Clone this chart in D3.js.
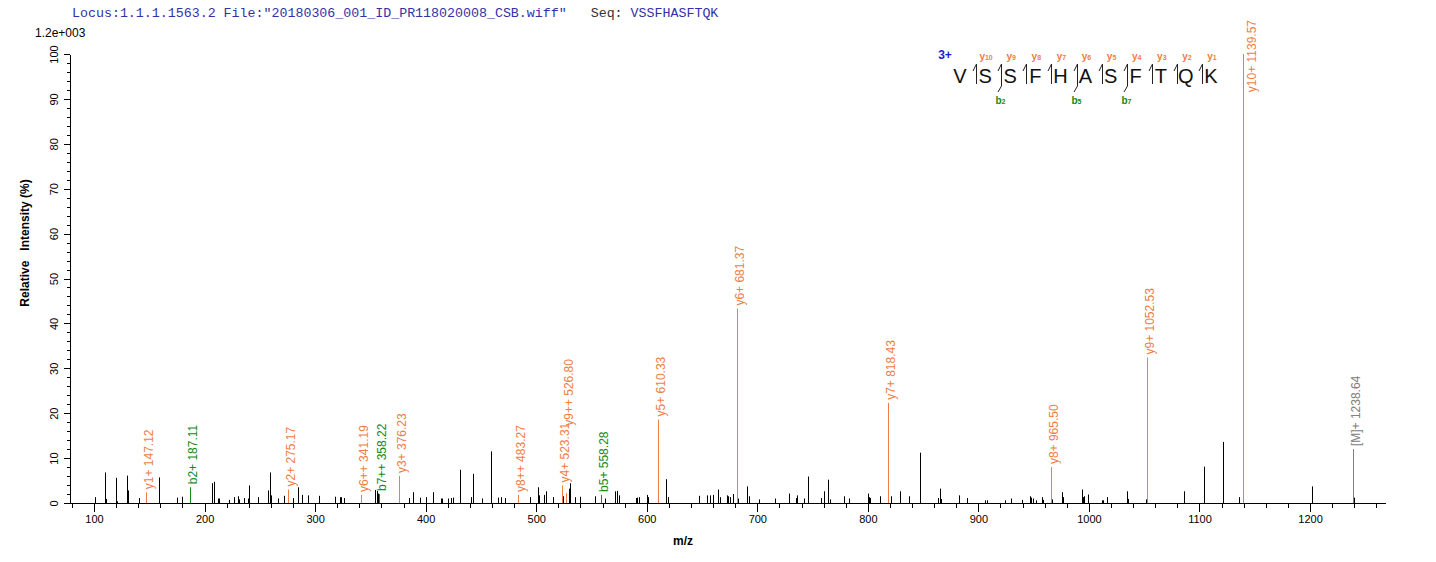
<!DOCTYPE html>
<html><head><meta charset="utf-8">
<script src="https://cdn.jsdelivr.net/npm/d3@7"></script>
<style>body{margin:0;background:#fff}svg{display:block;background:#fff}</style>
</head><body><svg id="c" width="1436" height="562"></svg>
<script>
// ---------- data ----------
const headerLocus = 'Locus:1.1.1.1563.2 File:"20180306_001_ID_PR118020008_CSB.wiff"';
const headerSeqLabel = "Seq:";
const headerSeq = "VSSFHASFTQK";
const maxIntensityLabel = "1.2e+003";
const chargeLabel = "3+";
const xTitle = "m/z";
const yTitle = "Relative   Intensity (%)";

const xTickValues = d3.range(80, 1261, 20);
const xLabelEvery = 100;
const yTickValues = d3.range(0, 101, 2);
const yLabelEvery = 10;

// unannotated peaks (m/z, relative intensity %)
const peakMz = [100.8,110.3,110.9,120.2,121.0,129.7,130.5,140.8,158.7,174.7,180.0,206.7,208.2,212.0,213.1,222.0,226.5,230.3,231.4,235.3,239.5,240.2,247.9,257.0,257.8,258.9,260.0,266.5,272.3,280.3,284.1,284.9,287.9,294.0,303.1,318.0,322.2,323.7,326.0,354.6,355.8,357.3,384.7,388.9,395.0,400.3,406.8,414.0,415.2,420.0,423.2,424.3,431.2,441.0,443.0,451.0,459.4,465.5,467.8,471.6,494.8,501.7,502.8,507.4,509.0,515.0,524.6,529.6,530.2,531.0,535.2,539.8,553.5,562.6,571.4,573.3,574.8,590.5,591.6,593.1,600.0,600.8,617.5,619.4,646.9,654.9,656.8,659.8,664.0,664.8,665.9,673.0,673.8,675.0,677.6,682.6,691.1,692.3,701.2,716.2,729.0,734.7,736.3,742.5,746.3,757.9,760.6,763.7,766.0,778.8,783.0,800.4,801.2,802.0,811.2,821.2,829.3,837.5,847.5,863.7,865.6,866.4,882.6,890.0,906.2,907.7,924.0,929.7,939.8,947.1,947.9,949.0,951.7,957.9,958.7,966.8,975.7,976.4,993.8,995.0,995.7,999.2,1012.0,1012.8,1016.2,1034.4,1035.2,1051.7,1086.1,1103.9,1121.2,1135.9,1201.5,1239.8];
const peakInt = [1.3,6.8,0.9,5.6,0.4,6.1,2.8,1.1,5.7,1.2,1.4,4.4,4.7,1.0,1.0,0.7,1.3,1.5,0.8,1.1,1.0,3.9,1.3,2.8,2.4,6.8,1.7,1.0,1.6,1.1,3.5,2.2,1.8,1.7,1.6,1.4,1.3,1.3,1.1,2.9,2.7,2.1,1.1,2.4,1.2,1.3,2.4,1.0,1.0,1.0,1.1,1.2,7.4,1.3,6.5,1.0,11.5,1.2,1.3,1.1,1.3,3.5,1.7,1.8,2.6,1.3,1.5,3.2,4.4,1.3,1.3,1.4,1.5,1.0,2.6,2.7,1.7,1.1,1.2,1.3,1.8,1.3,5.3,1.3,1.6,1.7,1.7,1.8,3.0,2.0,1.3,1.7,1.5,1.3,2.0,1.0,3.7,1.5,0.8,1.0,2.1,1.1,1.7,1.0,5.9,1.1,2.6,5.2,0.8,1.5,1.0,2.1,1.3,1.1,1.5,1.5,2.6,1.5,11.2,1.1,3.2,0.9,1.7,1.1,0.6,0.6,0.6,1.0,0.7,1.5,1.2,1.0,0.6,1.3,0.7,0.8,2.4,1.3,3.0,1.3,1.5,1.9,0.6,0.6,1.3,2.6,0.9,0.8,2.6,8.1,13.6,1.3,3.7,1.2];

// annotated fragment peaks
const annMz    = [147.12,187.11,275.17,341.19,358.22,376.23,483.27,523.31,526.80,558.28,610.33,681.37,818.43,965.50,1052.53,1139.57,1238.64];
const annInt   = [2.4,3.5,3.0,1.8,2.0,6.0,1.8,3.9,2.2,1.8,18.6,43.3,22.3,8.0,32.4,100,12.0];
const annLabel = ["y1+ 147.12","b2+ 187.11","y2+ 275.17","y6++ 341.19","b7++ 358.22","y3+ 376.23","y8++ 483.27","y4+ 523.31","y9++ 526.80","b5+ 558.28","y5+ 610.33","y6+ 681.37","y7+ 818.43","y8+ 965.50","y9+ 1052.53","y10+ 1139.57","[M]+ 1238.64"];
const annType  = ["y","b","y","y","b","y","y","y","y","b","y","y","y","y","y","y","M"];

// sequence coverage map
const seqResidues = headerSeq.split("");
const yIonNumbers = [10,9,8,7,6,5,4,3,2,1];   // boundary after residue 1..10
const bIonNumbers = [2,5,7];

// ---------- styling ----------
const colors = {y:"#ef7d45", b:"#138a13", M:"#808080", peak:"#000", header:"#3232a8", seqLabel:"#333", charge:"#1a1acc"};
const sansFont = "Arial, 'Liberation Sans', sans-serif";

const svg = d3.select("#c");
const x = d3.scaleLinear().domain([78, 1268]).range([69.7, 1385.2]);
const y = d3.scaleLinear().domain([0, 100]).range([503, 54]);

// header
const hdr = svg.append("text").attr("x", 72).attr("y", 17)
  .style("font-family", "'Liberation Mono', 'Courier New', monospace").style("font-size", "13.3px")
  .style("white-space", "pre");
hdr.append("tspan").attr("fill", colors.header).text(headerLocus + "   ");
hdr.append("tspan").attr("fill", colors.seqLabel).text(headerSeqLabel + " ");
hdr.append("tspan").attr("fill", colors.header).text(headerSeq);

svg.append("text").attr("x", 35).attr("y", 37).style("font-family", sansFont).style("font-size", "12px")
  .attr("fill", "#000").text(maxIntensityLabel);

// axes
function styleAxis(g) {
  g.selectAll("text").style("font-family", sansFont).style("font-size", "11px").attr("fill", "#000");
  g.selectAll("line,path").attr("stroke", "#000").attr("shape-rendering", "crispEdges");
}
const gxMinor = svg.append("g").attr("transform", "translate(0,503)")
  .call(d3.axisBottom(x).tickValues(xTickValues.filter(v => v % xLabelEvery !== 0)).tickSize(5).tickSizeOuter(0).tickFormat(""));
gxMinor.select(".domain").remove();
const gxMajor = svg.append("g").attr("transform", "translate(0,503)")
  .call(d3.axisBottom(x).tickValues(xTickValues.filter(v => v % xLabelEvery === 0)).tickSize(9).tickSizeOuter(0).tickPadding(3).tickFormat(d3.format("d")));
styleAxis(gxMinor); styleAxis(gxMajor);

const gyMinor = svg.append("g").attr("transform", "translate(70,0)")
  .call(d3.axisLeft(y).tickValues(yTickValues.filter(v => v % yLabelEvery !== 0)).tickSize(3).tickSizeOuter(0).tickFormat(""));
gyMinor.select(".domain").remove();
const gyMajor = svg.append("g").attr("transform", "translate(70,0)")
  .call(d3.axisLeft(y).tickValues(yTickValues.filter(v => v % yLabelEvery === 0)).tickSize(6).tickSizeOuter(0).tickFormat(d3.format("d")));
styleAxis(gyMinor); styleAxis(gyMajor);
gyMajor.selectAll("text").attr("transform", "rotate(-90)").attr("x", 0).attr("y", -16)
  .attr("dy", "0.35em").attr("text-anchor", "middle");

svg.append("text").attr("transform", "translate(29,243) rotate(-90)").attr("text-anchor", "middle")
  .style("font-family", sansFont).style("font-size", "12px").style("font-weight", "bold").style("white-space", "pre")
  .attr("fill", "#000").text(yTitle);
svg.append("text").attr("x", 683).attr("y", 545).attr("text-anchor", "middle")
  .style("font-family", sansFont).style("font-size", "12px").style("font-weight", "bold").attr("fill", "#000").text(xTitle);

// peaks
svg.append("g").selectAll("line").data(peakMz.map((m, i) => ({m, v: peakInt[i]}))).join("line")
  .attr("x1", d => Math.round(x(d.m)) + 0.5).attr("x2", d => Math.round(x(d.m)) + 0.5)
  .attr("y1", y(0)).attr("y2", d => y(d.v)).attr("stroke", colors.peak).attr("stroke-width", 1);

const ann = annMz.map((m, i) => ({m, v: annInt[i], label: annLabel[i], type: annType[i]}));
svg.append("g").selectAll("line").data(ann).join("line")
  .attr("x1", d => Math.round(x(d.m)) + 0.5).attr("x2", d => Math.round(x(d.m)) + 0.5)
  .attr("y1", y(0)).attr("y2", d => y(d.v)).attr("stroke", d => colors[d.type]).attr("stroke-width", 1);

// annotation labels with simple collision avoidance
const labelG = svg.append("g");
const placed = [];
ann.forEach(d => {
  const px = Math.round(x(d.m)) + 0.5;
  const t = labelG.append("text").style("font-family", sansFont).style("font-size", "12px")
    .attr("fill", colors[d.type]).attr("dy", "0.35em").text(d.label);
  const len = t.node().getComputedTextLength();
  let bottom = y(d.v) - 3;
  let ox = 2.5;
  let moved = true;
  while (moved) {
    moved = false;
    for (const p of placed) {
      if (Math.abs(p.x - px) < 11 && bottom > p.top && bottom - len < p.bottom) {
        bottom = p.top + 3; moved = bottom > p.top && false;
      }
    }
  }
  if (bottom - len < 18) { bottom = 20 + len; ox = 8; }
  t.attr("transform", `translate(${px + ox},${bottom}) rotate(-90)`);
  placed.push({x: px, top: bottom - len, bottom});
});

// sequence map
const sx = d3.scalePoint().domain(d3.range(seqResidues.length)).range([960, 1211]);
const seqG = svg.append("g").style("font-family", sansFont);
seqG.append("text").attr("x", 945).attr("y", 59).attr("text-anchor", "middle")
  .style("font-size", "12px").style("font-weight", "bold").attr("fill", colors.charge).text(chargeLabel);
seqG.selectAll("text.res").data(seqResidues).join("text").attr("class", "res")
  .attr("x", (d, i) => sx(i)).attr("y", 83).attr("text-anchor", "middle")
  .style("font-size", "20px").attr("fill", "#111").text(d => d);
yIonNumbers.forEach((n, k) => {
  const i = k + 1;
  const bx = Math.round(sx(i) - 9) + 0.5;
  const hasB = bIonNumbers.includes(i);
  seqG.append("line").attr("x1", bx).attr("x2", bx).attr("y1", 64).attr("y2", hasB ? 86 : 84)
    .attr("stroke", "#222").attr("stroke-width", 1);
  seqG.append("line").attr("x1", bx).attr("y1", 64).attr("x2", bx - 3.5).attr("y2", 71)
    .attr("stroke", "#222").attr("stroke-width", 1);
  const lt = seqG.append("text").attr("x", sx(i) + 1).attr("y", 60).attr("text-anchor", "middle")
    .style("font-size", "10px").style("font-weight", "bold").attr("fill", colors.y);
  lt.append("tspan").text("y");
  lt.append("tspan").style("font-size", "7px").text(n);
  if (hasB) {
    seqG.append("line").attr("x1", bx).attr("y1", 86).attr("x2", bx - 3.5).attr("y2", 92)
      .attr("stroke", "#222").attr("stroke-width", 1);
    const bt = seqG.append("text").attr("x", bx - 1).attr("y", 104).attr("text-anchor", "middle")
      .style("font-size", "10px").style("font-weight", "bold").attr("fill", colors.b);
    bt.append("tspan").text("b");
    bt.append("tspan").style("font-size", "7px").text(i);
  }
});
</script></body></html>
